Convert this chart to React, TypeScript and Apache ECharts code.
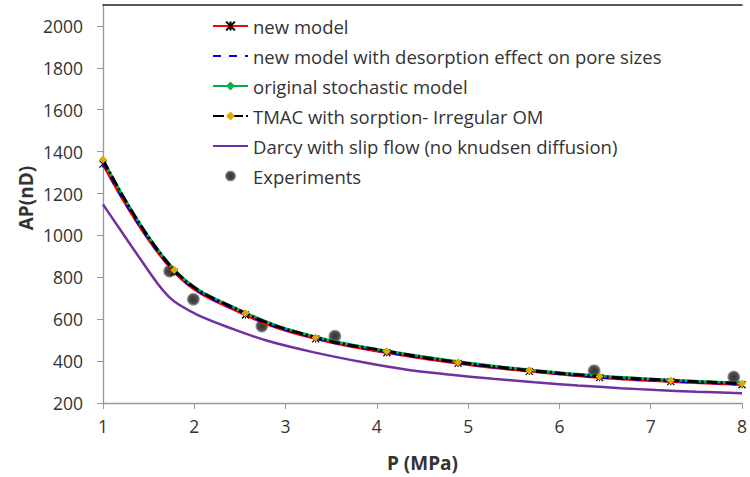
import React, { useEffect, useRef } from "react";
import * as echarts from "echarts";

const xMarks = [1, 1.78, 2.56, 3.33, 4.11, 4.89, 5.67, 6.44, 7.22, 8];
const newModel = [1340, 825, 620, 506, 440, 389, 351, 321, 302, 287];
const desorption = [1346, 829, 624, 509, 443, 392, 353, 323, 304, 289];
const stochastic = [1364, 838, 632, 516, 449, 398, 359, 330, 310, 295];
const tmac = [1362, 835, 629, 513, 447, 395, 356, 327, 308, 293];
const darcyX = [1, 1.18, 1.4, 1.61, 1.72, 1.83, 2.04, 2.4, 2.8, 3.3, 3.88, 4.33, 4.81, 5.27, 5.73, 6.2, 6.67, 7.06, 7.5, 8];
const darcyY = [1148, 1033, 893, 763, 708, 670, 620, 557, 497, 443, 392, 359, 335, 316, 299, 284, 271, 262, 254, 246];
const expX = [1.73, 1.99, 2.74, 3.54, 6.38, 7.91];
const expY = [829, 695, 567, 519, 354, 324];
const yTicks = [200, 400, 600, 800, 1000, 1200, 1400, 1600, 1800, 2000];
const names = [
  "new model",
  "new model with desorption effect on pore sizes",
  "original stochastic model",
  "TMAC with sorption- Irregular OM",
  "Darcy with slip flow (no knudsen diffusion)",
  "Experiments",
];

const pair = (xs: number[], ys: number[]) => xs.map((x, i) => [x, ys[i]]);
const FONT = "Open Sans";
const TXT = "#333";
const CLEAR = "rgba(0,0,0,0)";

export default function App() {
  const ref = useRef<HTMLDivElement>(null);
  useEffect(() => {
    if (!ref.current) return;
    const chart = echarts.init(ref.current, null, { renderer: "svg" });
    chart.setOption({
      animation: false,
      backgroundColor: "#fff",
      textStyle: { fontFamily: FONT },
      grid: { left: 103, right: -3, top: 5, bottom: 72 },
      legend: {
        orient: "vertical",
        left: 207,
        top: 10,
        itemWidth: 35,
        itemHeight: 11,
        itemGap: 8,
        textStyle: { fontFamily: FONT, fontSize: 18.5, color: TXT, lineHeight: 22 },
        data: names,
      },
      xAxis: [
        {
          type: "value",
          min: 1,
          max: 8,
          interval: 1,
          name: "P (MPa)",
          nameLocation: "middle",
          nameGap: 50,
          nameTextStyle: { fontFamily: FONT, fontSize: 19, fontWeight: "bold", color: TXT },
          axisLine: { lineStyle: { color: "#999", width: 1.3 } },
          axisTick: { show: true, length: 6, lineStyle: { color: "#999" } },
          axisLabel: { fontFamily: FONT, fontSize: 17.5, color: TXT, margin: 14 },
          splitLine: { show: false },
        },
        {
          type: "value",
          position: "top",
          min: 1,
          max: 8,
          axisLine: { show: true, lineStyle: { color: "#222", width: 1.5 } },
          axisTick: { show: false },
          axisLabel: { show: false },
          splitLine: { show: false },
        },
      ],
      yAxis: {
        type: "value",
        min: 200,
        max: 2100,
        axisLine: { show: true, lineStyle: { color: "#999", width: 1.3 } },
        axisTick: { show: true, length: 6, lineStyle: { color: "#999" }, customValues: yTicks },
        axisLabel: {
          fontFamily: FONT,
          fontSize: 17.5,
          color: TXT,
          margin: 20,
          customValues: yTicks,
          formatter: (v: number) => String(v),
        },
        splitLine: { show: false },
      },
      graphic: [
        {
          type: "text",
          x: 26,
          y: 198,
          rotation: Math.PI / 2,
          style: {
            text: "AP(nD)",
            fontFamily: FONT,
            fontSize: 19,
            fontWeight: "bold",
            fill: TXT,
            align: "center",
            verticalAlign: "middle",
          },
        },
      ],
      series: [
        {
          name: names[5],
          type: "scatter",
          z: 1,
          symbol: "circle",
          symbolSize: 13,
          itemStyle: {
            color: new echarts.graphic.RadialGradient(0.5, 0.5, 0.5, [
              { offset: 0, color: "#000" },
              { offset: 0.7, color: "#222" },
              { offset: 1, color: "rgba(60,60,60,0.5)" },
            ]),
          },
          data: pair(expX, expY),
        },
        {
          name: names[0],
          type: "line",
          z: 2,
          smooth: 0.4,
          symbol: "path://M0,0L10,10M10,0L0,10M5,0L5,10",
          symbolSize: 7,
          itemStyle: { color: "#000", borderColor: "#000", borderWidth: 1.2 },
          lineStyle: { color: "#f00", width: 2.5 },
          data: pair(xMarks, newModel),
        },
        {
          name: names[1],
          type: "line",
          z: 3,
          smooth: 0.4,
          symbol: "none",
          itemStyle: { color: CLEAR, borderColor: CLEAR },
          lineStyle: { color: "#0000ff", width: 2.5, type: [8, 8] },
          data: pair(xMarks, desorption),
        },
        {
          name: names[2],
          type: "line",
          z: 4,
          smooth: 0.4,
          symbol: "diamond",
          symbolSize: 5,
          itemStyle: { color: "#00b050" },
          lineStyle: { color: "#00b050", width: 2.5 },
          data: pair(xMarks, stochastic),
        },
        {
          name: names[3],
          type: "line",
          z: 5,
          smooth: 0.4,
          symbol: "diamond",
          symbolSize: 8,
          itemStyle: { color: "#e0a800" },
          lineStyle: { color: "#000", width: 3, type: [11, 3, 2, 3] },
          data: pair(xMarks, tmac),
        },
        {
          name: names[4],
          type: "line",
          z: 5,
          smooth: 0.35,
          symbol: "none",
          itemStyle: { color: CLEAR, borderColor: CLEAR },
          lineStyle: { color: "#7030a0", width: 2.5 },
          data: pair(darcyX, darcyY),
        },
      ],
    });
    return () => chart.dispose();
  }, []);
  return (
    <div
      ref={ref}
      style={{ position: "fixed", left: 0, top: 0, width: 750, height: 477 }}
    />
  );
}
